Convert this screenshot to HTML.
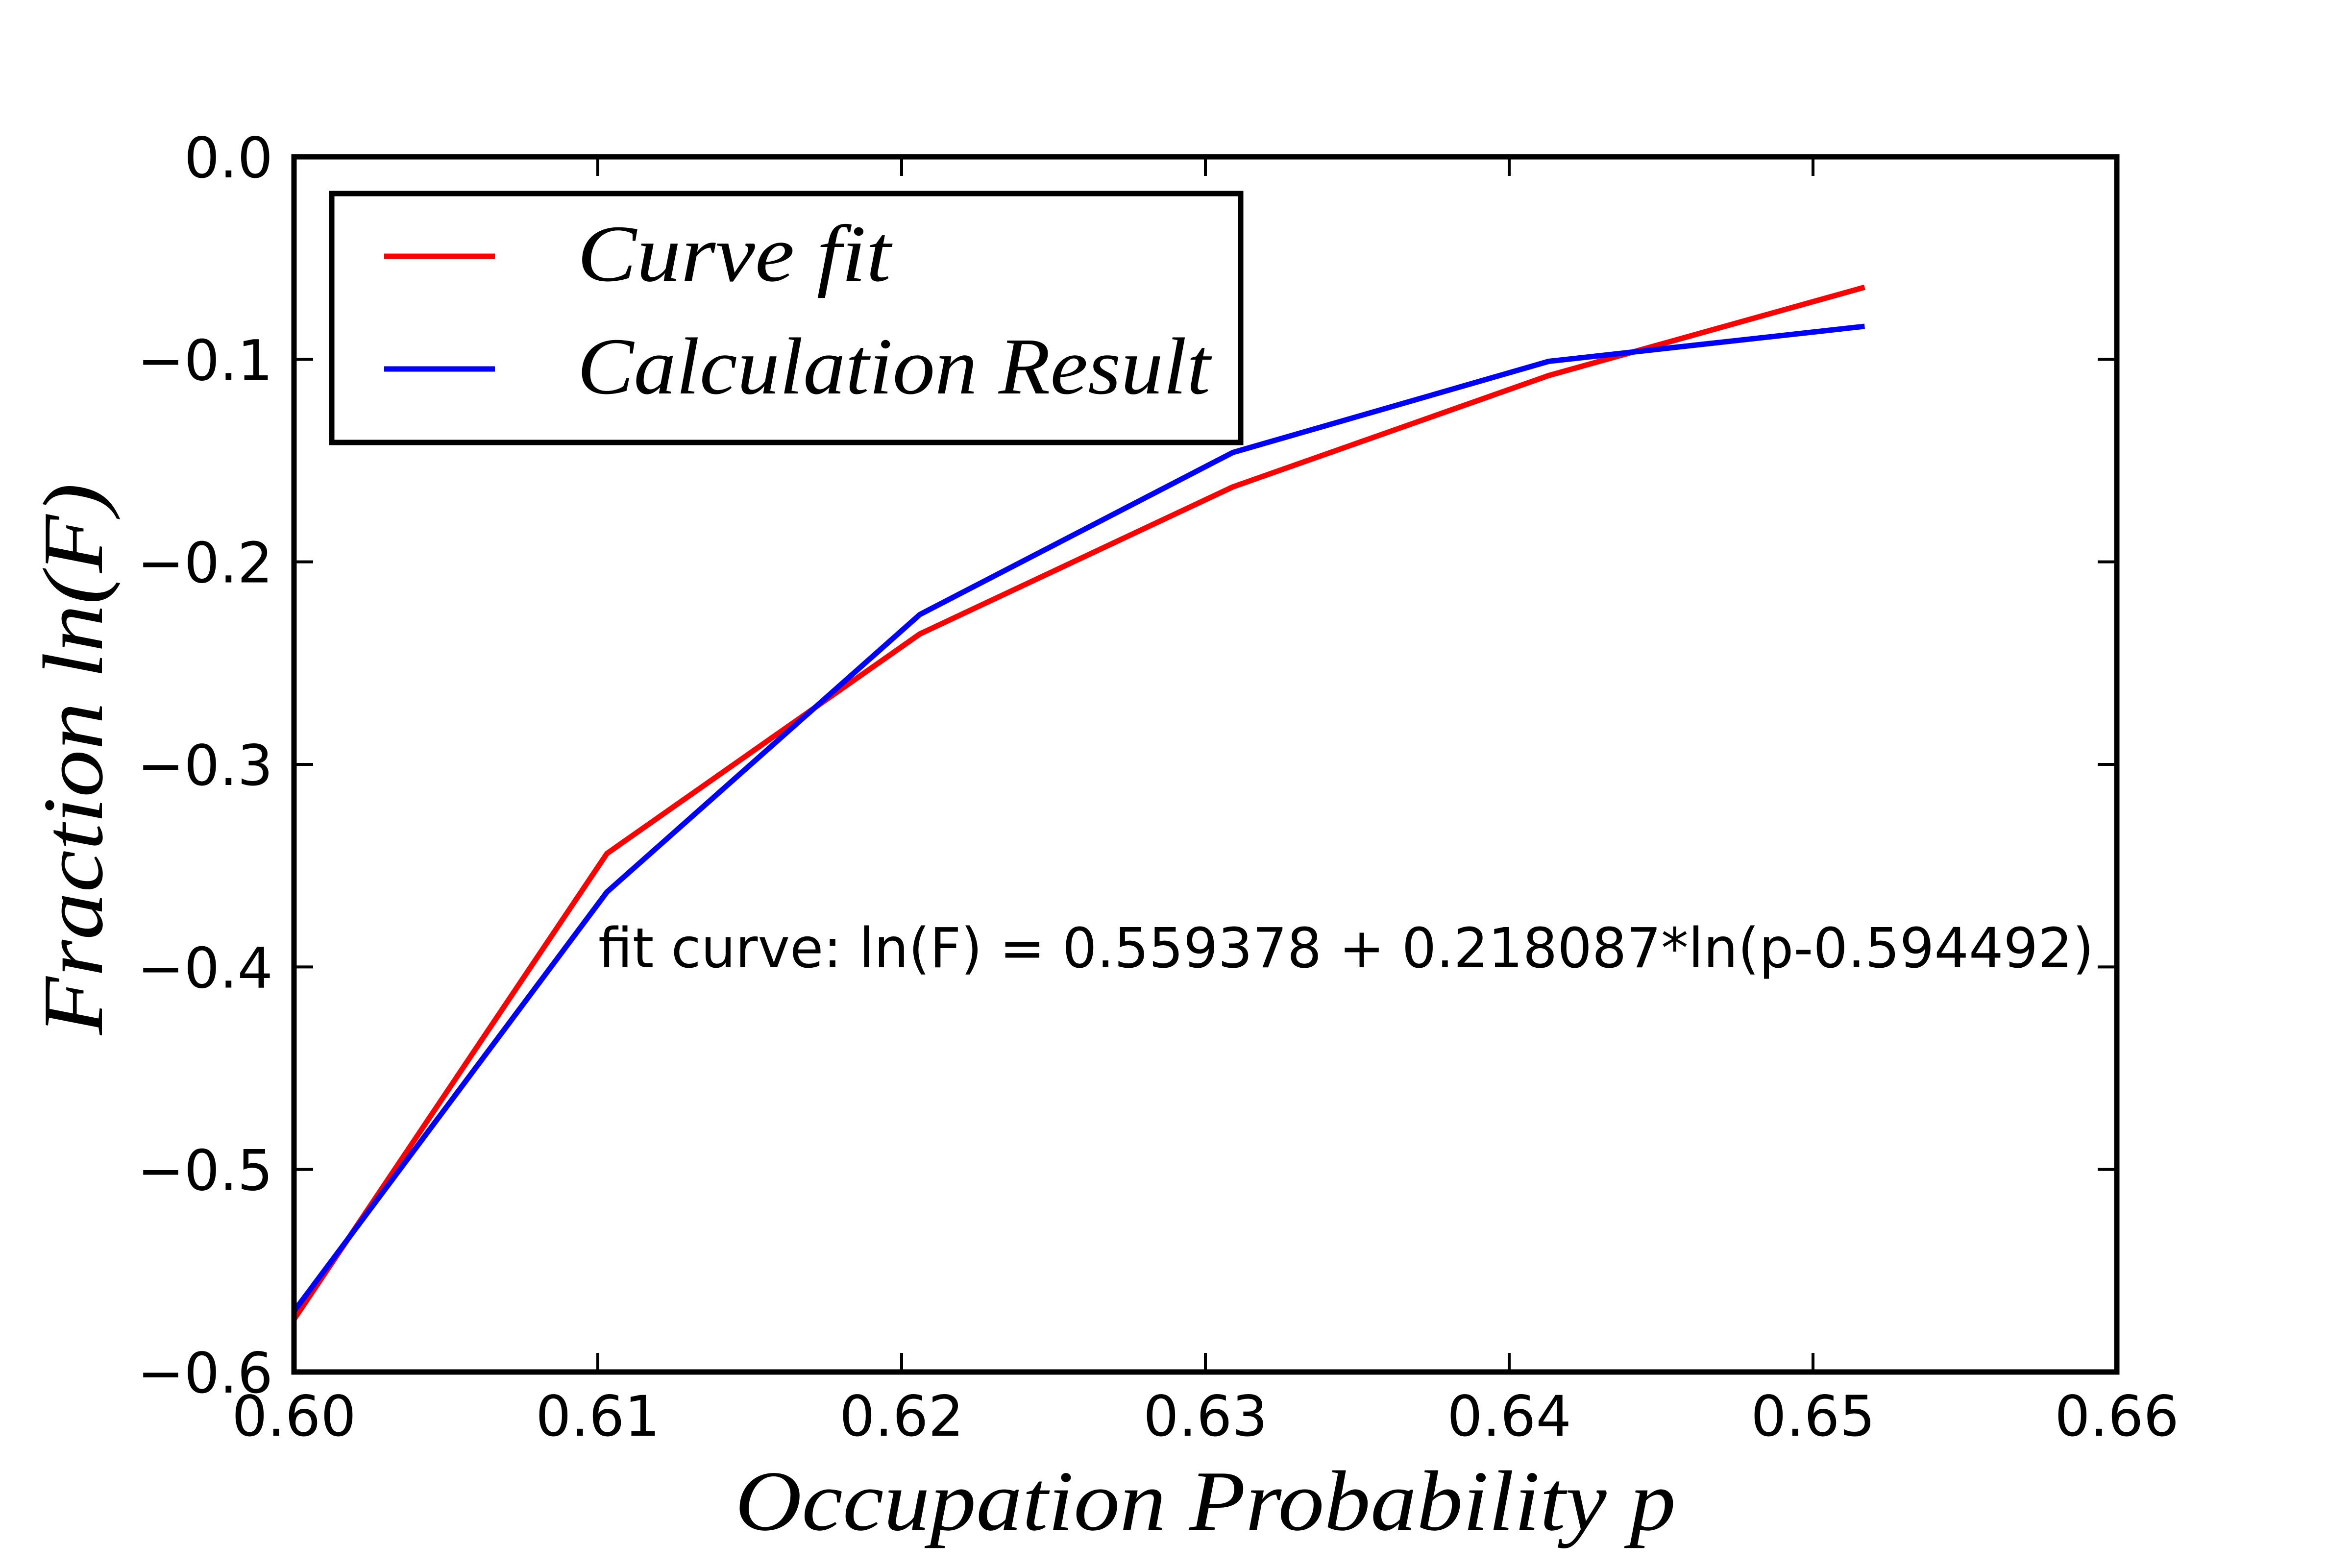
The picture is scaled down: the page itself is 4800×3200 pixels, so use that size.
<!DOCTYPE html>
<html><head><meta charset="utf-8"><style>
html,body{margin:0;padding:0;background:#fff;}
svg{display:block;}
</style></head><body>
<svg id="chart" xmlns="http://www.w3.org/2000/svg" width="4800" height="3200" viewBox="0 0 4800 3200">
<rect x="0" y="0" width="4800" height="3200" fill="#fff"/>
<g id="ticks"></g>
<g id="series"></g>
<rect x="600" y="320" width="3720" height="2480" fill="none" stroke="#000" stroke-width="11"/>
<g>
<rect x="677" y="395" width="1855" height="508" fill="#fff" stroke="#000" stroke-width="11"/>
<line x1="784" y1="523" x2="1010" y2="523" stroke="#ff0000" stroke-width="11"/>
<text x="1178" y="573" font-family="Liberation Serif, serif" font-style="italic" font-size="165" textLength="640" lengthAdjust="spacingAndGlyphs">Curve fit</text>
<line x1="784" y1="753" x2="1010" y2="753" stroke="#0000ff" stroke-width="11"/>
<text x="1178" y="803" font-family="Liberation Serif, serif" font-style="italic" font-size="165" textLength="1292" lengthAdjust="spacingAndGlyphs">Calculation Result</text>
</g>
<text x="1221" y="1974" font-family="DejaVu Sans, Liberation Sans, sans-serif" font-size="112" textLength="3052" lengthAdjust="spacingAndGlyphs">fit curve: ln(F) = 0.559378 + 0.218087*ln(p-0.594492)</text>
<text x="2460" y="3122" text-anchor="middle" font-family="Liberation Serif, serif" font-style="italic" font-size="175" textLength="1920" lengthAdjust="spacingAndGlyphs">Occupation Probability p</text>
<text transform="translate(208,1549) rotate(-90)" text-anchor="middle" font-family="Liberation Serif, serif" font-style="italic" font-size="175" textLength="1126" lengthAdjust="spacingAndGlyphs">Fraction ln(F)</text>
</svg>
<script>
const xTicks = [0.60, 0.61, 0.62, 0.63, 0.64, 0.65, 0.66];
const xTickLabels = ["0.60", "0.61", "0.62", "0.63", "0.64", "0.65", "0.66"];
const yTicks = [0.0, -0.1, -0.2, -0.3, -0.4, -0.5, -0.6];
const yTickLabels = ["0.0", "\u22120.1", "\u22120.2", "\u22120.3", "\u22120.4", "\u22120.5", "\u22120.6"];
const pValues = [0.6000, 0.6103, 0.6206, 0.6309, 0.6413, 0.6517];
const curveFit = [-0.574, -0.344, -0.2356, -0.163, -0.108, -0.0644];
const calcResult = [-0.570, -0.363, -0.226, -0.146, -0.101, -0.0837];

const NS = "http://www.w3.org/2000/svg";
const X0 = 600, X1 = 4320, Y0 = 320, Y1 = 2800;
function xs(v){ return X0 + (v - 0.60) / 0.06 * (X1 - X0); }
function ys(v){ return Y0 + (0 - v) / 0.6 * (Y1 - Y0); }
function mk(tag, attrs){ const e = document.createElementNS(NS, tag); for (const k in attrs) e.setAttribute(k, attrs[k]); return e; }

const tg = document.getElementById('ticks');
xTicks.forEach((t, i) => {
  const x = xs(t);
  const a = mk('line', {x1:x, y1:Y1, x2:x, y2:Y1-39, stroke:'#000', 'stroke-width':6});
  
  
  tg.appendChild(a);
  const b = mk('line', {x1:x, y1:Y0, x2:x, y2:Y0+39, stroke:'#000', 'stroke-width':6});
  
  
  tg.appendChild(b);
  const tx = mk('text', {x:x, y:2930, 'text-anchor':'middle', 'font-family':'DejaVu Sans, Liberation Sans, sans-serif', 'font-size':114});
  tx.textContent = xTickLabels[i];
  
  
  tg.appendChild(tx);
});
yTicks.forEach((t, i) => {
  const y = ys(t);
  const a = mk('line', {x1:X0, y1:y, x2:X0+39, y2:y, stroke:'#000', 'stroke-width':6});
  
  
  tg.appendChild(a);
  const b = mk('line', {x1:X1, y1:y, x2:X1-39, y2:y, stroke:'#000', 'stroke-width':6});
  
  
  tg.appendChild(b);
  const tx = mk('text', {x:557, y:y+42, 'text-anchor':'end', 'font-family':'DejaVu Sans, Liberation Sans, sans-serif', 'font-size':114});
  tx.textContent = yTickLabels[i];
  
  
  tg.appendChild(tx);
});

const sg = document.getElementById('series');
const red = mk('polyline', {points: pValues.map((p, i) => xs(p) + ',' + ys(curveFit[i])).join(' '), fill:'none', stroke:'#ff0000', 'stroke-width':11, 'stroke-linejoin':'miter'});


sg.appendChild(red);
const blue = mk('polyline', {points: pValues.map((p, i) => xs(p) + ',' + ys(calcResult[i])).join(' '), fill:'none', stroke:'#0000ff', 'stroke-width':11, 'stroke-linejoin':'miter'});


sg.appendChild(blue);
</script>
</body></html>
